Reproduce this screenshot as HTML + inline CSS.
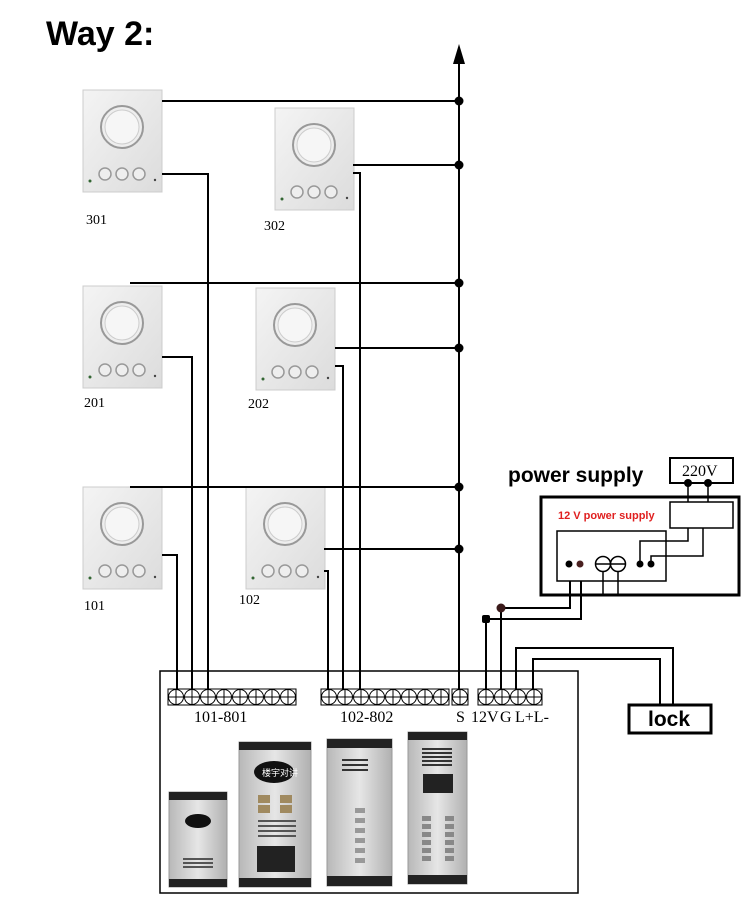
<!DOCTYPE html>
<html><head><meta charset="utf-8"><style>
html,body{margin:0;padding:0;background:#fff;}
svg{display:block;}
</style></head><body>
<svg width="750" height="912" viewBox="0 0 750 912" xmlns="http://www.w3.org/2000/svg" font-family="Liberation Serif, serif">
<defs>
<linearGradient id="ug" x1="0" y1="0" x2="1" y2="1"><stop offset="0" stop-color="#f4f4f4"/><stop offset="1" stop-color="#dcdcdc"/></linearGradient>
<linearGradient id="pg" x1="0" y1="0" x2="1" y2="0"><stop offset="0" stop-color="#b8b8b8"/><stop offset="0.5" stop-color="#e6e6e6"/><stop offset="1" stop-color="#b0b0b0"/></linearGradient>
<g id="unit">
<rect x="0" y="0" width="79" height="102" fill="url(#ug)" stroke="#ccc"/>
<circle cx="39" cy="37" r="21" fill="#eee" stroke="#999" stroke-width="2"/>
<circle cx="39" cy="37" r="17" fill="#f6f6f6" stroke="#ccc"/>
<circle cx="22" cy="84" r="6" fill="#eee" stroke="#999" stroke-width="1.5"/>
<circle cx="39" cy="84" r="6" fill="#eee" stroke="#999" stroke-width="1.5"/>
<circle cx="56" cy="84" r="6" fill="#eee" stroke="#999" stroke-width="1.5"/>
<circle cx="7" cy="91" r="1.5" fill="#363"/>
<circle cx="72" cy="90" r="1.2" fill="#444"/>
</g>
<g id="t"><circle r="7.5" fill="#fff" stroke="#000" stroke-width="1"/><line x1="-7.5" y1="0" x2="7.5" y2="0" stroke="#000"/><line x1="0" y1="-7.5" x2="0" y2="7.5" stroke="#000"/></g>
</defs>

<text x="46" y="45" font-family="Liberation Sans, sans-serif" font-weight="bold" font-size="34">Way 2:</text>

<use href="#unit" x="83" y="90"/>
<use href="#unit" x="275" y="108"/>
<use href="#unit" x="83" y="286"/>
<use href="#unit" x="256" y="288"/>
<use href="#unit" x="83" y="487"/>
<use href="#unit" x="246" y="487"/>
<g font-size="14">
<text x="86" y="224">301</text><text x="264" y="230">302</text>
<text x="84" y="407">201</text><text x="248" y="408">202</text>
<text x="84" y="610">101</text><text x="239" y="604">102</text>
</g>

<g stroke="#000" stroke-width="2" fill="none">
<line x1="459" y1="58" x2="459" y2="690"/>
<polyline points="162,101 459,101"/>
<polyline points="353,165 459,165"/>
<polyline points="130,283 459,283"/>
<polyline points="335,348 459,348"/>
<polyline points="130,487 459,487"/>
<polyline points="324,549 459,549"/>
<polyline points="162,174 208,174 208,690"/>
<polyline points="162,357 192,357 192,690"/>
<polyline points="162,555 177,555 177,690"/>
<polyline points="353,173 360,173 360,690"/>
<polyline points="335,366 343,366 343,690"/>
<polyline points="324,571 328,571 328,690"/>
<polyline points="570,581 570,608 501,608 501,690"/>
<polyline points="581,581 581,619 486,619 486,690"/>
<polyline points="516,690 516,648 673,648 673,705"/>
<polyline points="533,690 533,659 660,659 660,705"/>
</g>
<polygon points="459,44 453,64 465,64" fill="#000"/>
<g fill="#000">
<circle cx="459" cy="101" r="4.5"/><circle cx="459" cy="165" r="4.5"/><circle cx="459" cy="283" r="4.5"/>
<circle cx="459" cy="348" r="4.5"/><circle cx="459" cy="487" r="4.5"/><circle cx="459" cy="549" r="4.5"/>
<circle cx="501" cy="608" r="4.5" fill="#3a1a1a"/><rect x="482" y="615" width="8" height="8" rx="2"/>
</g>

<rect x="160" y="671" width="418" height="222" fill="none" stroke="#000" stroke-width="1.5"/>
<g fill="#fff" stroke="#000">
<rect x="168" y="689" width="128" height="16"/><rect x="321" y="689" width="128" height="16"/>
<rect x="452" y="689" width="16" height="16"/><rect x="478" y="689" width="64" height="16"/>
</g>
<g>
<use href="#t" x="176" y="697"/><use href="#t" x="192" y="697"/><use href="#t" x="208" y="697"/><use href="#t" x="224" y="697"/>
<use href="#t" x="240" y="697"/><use href="#t" x="256" y="697"/><use href="#t" x="272" y="697"/><use href="#t" x="288" y="697"/>
<use href="#t" x="329" y="697"/><use href="#t" x="345" y="697"/><use href="#t" x="361" y="697"/><use href="#t" x="377" y="697"/>
<use href="#t" x="393" y="697"/><use href="#t" x="409" y="697"/><use href="#t" x="425" y="697"/><use href="#t" x="441" y="697"/>
<use href="#t" x="460" y="697"/>
<use href="#t" x="486" y="697"/><use href="#t" x="502" y="697"/><use href="#t" x="518" y="697"/><use href="#t" x="534" y="697"/>
</g>
<g font-size="16">
<text x="194" y="722">101-801</text>
<text x="340" y="722">102-802</text>
<text x="456" y="722">S</text>
<text x="471" y="722">12V</text>
<text x="500" y="722">G</text>
<text x="515" y="722">L+L-</text>
</g>

<g>
<rect x="169" y="792" width="58" height="95" fill="url(#pg)" stroke="#999"/>
<rect x="169" y="792" width="58" height="8" fill="#222"/><rect x="169" y="879" width="58" height="8" fill="#222"/>
<ellipse cx="198" cy="821" rx="13" ry="7" fill="#111"/>
<g fill="#555"><rect x="183" y="858" width="30" height="2"/><rect x="183" y="862" width="30" height="2"/><rect x="183" y="866" width="30" height="2"/></g>

<rect x="239" y="742" width="72" height="145" fill="url(#pg)" stroke="#999"/>
<rect x="239" y="742" width="72" height="8" fill="#222"/><rect x="239" y="878" width="72" height="9" fill="#222"/>
<ellipse cx="274" cy="772" rx="20" ry="11" fill="#111"/>
<text x="262" y="776" font-size="9" fill="#fff" font-family="Liberation Sans, Noto Sans CJK SC, sans-serif">楼宇对讲</text>
<g fill="#a08a60"><rect x="258" y="795" width="12" height="8"/><rect x="280" y="795" width="12" height="8"/><rect x="258" y="805" width="12" height="8"/><rect x="280" y="805" width="12" height="8"/></g>
<g fill="#555"><rect x="258" y="820" width="38" height="2"/><rect x="258" y="825" width="38" height="2"/><rect x="258" y="830" width="38" height="2"/><rect x="258" y="835" width="38" height="2"/></g>
<rect x="257" y="846" width="38" height="26" fill="#222"/>

<rect x="327" y="739" width="65" height="147" fill="url(#pg)" stroke="#999"/>
<rect x="327" y="739" width="65" height="9" fill="#222"/><rect x="327" y="876" width="65" height="10" fill="#222"/>
<g fill="#333"><rect x="342" y="759" width="26" height="2"/><rect x="342" y="764" width="26" height="2"/><rect x="342" y="769" width="26" height="2"/></g>
<g fill="#999"><rect x="355" y="808" width="10" height="5"/><rect x="355" y="818" width="10" height="5"/><rect x="355" y="828" width="10" height="5"/><rect x="355" y="838" width="10" height="5"/><rect x="355" y="848" width="10" height="5"/><rect x="355" y="858" width="10" height="5"/></g>

<rect x="408" y="732" width="59" height="152" fill="url(#pg)" stroke="#999"/>
<rect x="408" y="732" width="59" height="8" fill="#222"/><rect x="408" y="875" width="59" height="9" fill="#222"/>
<g fill="#333"><rect x="422" y="748" width="30" height="2"/><rect x="422" y="752" width="30" height="2"/><rect x="422" y="756" width="30" height="2"/><rect x="422" y="760" width="30" height="2"/><rect x="422" y="764" width="30" height="2"/></g>
<rect x="423" y="774" width="30" height="19" fill="#222"/>
<g fill="#888"><rect x="422" y="816" width="9" height="5"/><rect x="445" y="816" width="9" height="5"/><rect x="422" y="824" width="9" height="5"/><rect x="445" y="824" width="9" height="5"/><rect x="422" y="832" width="9" height="5"/><rect x="445" y="832" width="9" height="5"/><rect x="422" y="840" width="9" height="5"/><rect x="445" y="840" width="9" height="5"/><rect x="422" y="848" width="9" height="5"/><rect x="445" y="848" width="9" height="5"/><rect x="422" y="856" width="9" height="5"/><rect x="445" y="856" width="9" height="5"/></g>
</g>

<text x="508" y="482" font-family="Liberation Sans, sans-serif" font-weight="bold" font-size="21">power supply</text>
<rect x="670" y="458" width="63" height="25" fill="#fff" stroke="#000" stroke-width="2"/>
<text x="682" y="476" font-size="16">220V</text>
<rect x="541" y="497" width="198" height="98" fill="none" stroke="#000" stroke-width="3"/>
<rect x="670" y="502" width="63" height="26" fill="#fff" stroke="#000" stroke-width="1.5"/>
<text x="558" y="519" font-family="Liberation Sans, sans-serif" font-weight="bold" font-size="11" fill="#e02020">12 V power supply</text>
<rect x="557" y="531" width="109" height="50" fill="none" stroke="#000" stroke-width="1.5"/>
<g stroke="#000" stroke-width="1.5" fill="none">
<line x1="688" y1="483" x2="688" y2="502"/><line x1="708" y1="483" x2="708" y2="502"/>
<polyline points="688,528 688,541 640,541 640,564"/>
<polyline points="703,528 703,556 651,556 651,564"/>
<line x1="603" y1="564" x2="603" y2="595"/><line x1="618" y1="564" x2="618" y2="595"/>
<circle cx="603" cy="564" r="7.5" fill="#fff"/><circle cx="618" cy="564" r="7.5" fill="#fff"/>
<line x1="595.5" y1="564" x2="625.5" y2="564"/>
</g>
<g fill="#000"><circle cx="688" cy="483" r="4"/><circle cx="708" cy="483" r="4"/>
<circle cx="569" cy="564" r="3.5"/><circle cx="580" cy="564" r="3.5" fill="#4a2020"/><circle cx="640" cy="564" r="3.5"/><circle cx="651" cy="564" r="3.5"/></g>

<rect x="629" y="705" width="82" height="28" fill="#fff" stroke="#000" stroke-width="3"/>
<text x="648" y="726" font-family="Liberation Sans, sans-serif" font-weight="bold" font-size="21">lock</text>
</svg>
</body></html>
